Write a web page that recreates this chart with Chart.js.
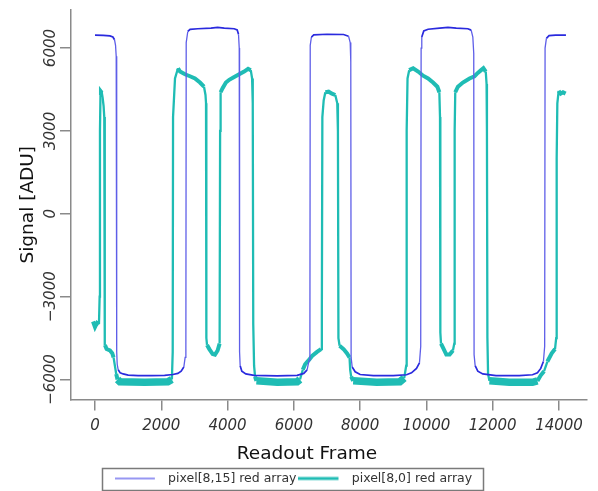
<!DOCTYPE html>
<html>
<head>
<meta charset="utf-8">
<script src="https://cdn.jsdelivr.net/npm/chart.js@4/dist/chart.umd.min.js"></script>
<style>
  html, body { margin: 0; padding: 0; background: #ffffff; }
  #wrap { position: relative; width: 598px; height: 491px; }
</style>
</head>
<body>
<div id="wrap"><canvas id="c" width="598" height="491"></canvas></div>
<script>
// ---- data ----
const seriesNames = ["pixel[8,15] red array", "pixel[8,0] red array"];

const blueFrames = [0, 250, 450, 540, 590, 620, 640, 655, 670, 700, 760, 850, 1000, 1300, 1700, 2100, 2350, 2500, 2600, 2680, 2720, 2742,
  2752, 2800, 2870, 3100, 3500, 3700, 3900, 4200, 4290, 4330, 4352, 4362, 4380, 4430, 4550, 4800, 5500, 6100, 6300, 6400, 6460, 6484,
  6494, 6530, 6600, 7000, 7500, 7650, 7700, 7718, 7728, 7760, 7850, 8000, 8400, 9000, 9400, 9550, 9700, 9790, 9828,
  9840, 9860, 9920, 10050, 10400, 10650, 10900, 11250, 11350, 11400, 11428, 11438, 11470, 11550, 11700, 12100, 12800, 13200, 13350, 13450, 13530, 13568,
  13580, 13620, 13700, 13900, 14210];
const blueValues = [6470, 6460, 6440, 6400, 6300, 6100, 5700, -5000, -5450, -5650, -5760, -5800, -5840, -5860, -5860, -5850, -5820, -5780, -5700, -5550, -5200, -4900,
  6200, 6600, 6680, 6700, 6720, 6750, 6720, 6700, 6660, 6500, 6000, -5000, -5500, -5700, -5800, -5850, -5870, -5850, -5780, -5650, -5300, -4800,
  6100, 6400, 6480, 6500, 6490, 6430, 6200, 5500, -5200, -5550, -5720, -5820, -5860, -5860, -5830, -5760, -5600, -5400, -4800,
  6000, 6400, 6620, 6680, 6720, 6750, 6720, 6700, 6650, 6400, 5800, -5100, -5500, -5700, -5800, -5860, -5860, -5830, -5760, -5600, -5350, -4800,
  6000, 6350, 6450, 6470, 6470];

const tealFrames = [-60, 0, 60, 120, 140, 150, 165, 180, 205, 230, 260, 280, 290, 300, 350, 450, 520, 560, 600, 640, 680, 750, 1500, 2200, 2320, 2345,
  2355, 2414, 2504, 2565, 2715, 2866, 3017, 3168, 3289, 3334, 3350, 3360, 3380, 3450, 3550, 3620, 3700, 3760,
  3775, 3790, 3850, 3950, 4050, 4200, 4350, 4500, 4620, 4700, 4740, 4760, 4775, 4800, 4830, 4870, 5500, 6100, 6185, 6270, 6340, 6450, 6550, 6700, 6820, 6845,
  6860, 6900, 6950, 7050, 7150, 7250, 7310, 7330, 7345, 7380, 7500, 7600, 7680, 7700, 7730, 7790, 8500, 9200, 9330, 9390,
  9404, 9430, 9480, 9600, 9750, 9900, 10050, 10200, 10330, 10390, 10410, 10420, 10440, 10500, 10600, 10700, 10800, 10840,
  10852, 10870, 10950, 11100, 11300, 11450, 11550, 11650, 11720, 11790, 11815, 11826, 11840, 11860, 11900, 12500, 13200, 13350, 13450, 13550, 13650, 13780, 13880, 13915,
  13930, 13950, 13990, 14050, 14120, 14200];
const tealValues = [-3900, -4100, -3950, -4000, -3000, 3000, 4300, 4420, 4380, 4200, 3900, 3500, -4200, -4750, -4900, -4950, -5050, -5200, -5500, -5800, -6000, -6080, -6100, -6080, -6000, -5000,
  3500, 4900, 5270, 5150, 5050, 4980, 4900, 4750, 4600, 4300, 4000, -4500, -4750, -4900, -5080, -5100, -4950, -4700,
  3000, 4400, 4550, 4750, 4850, 4950, 5050, 5150, 5250, 5200, 4900, 4000, -4000, -5500, -5900, -6050, -6100, -6080, -6000, -5650, -5450, -5300, -5150, -5000, -4900, -3500,
  3500, 4100, 4400, 4420, 4350, 4300, 4000, 3000, -4500, -4780, -4900, -5050, -5200, -5650, -5900, -6050, -6100, -6080, -5950, -5500,
  3000, 4900, 5200, 5270, 5150, 5000, 4900, 4750, 4600, 4400, 3500, -4300, -4700, -4850, -5100, -5100, -4950, -4700,
  3000, 4400, 4600, 4750, 4900, 4980, 5100, 5200, 5270, 5150, 4700, 3000, -4500, -5800, -6050, -6100, -6100, -6050, -5850, -5700, -5350, -5050, -4900, -4500,
  2000, 4000, 4450, 4350, 4400, 4350];

const xTickValues = [0, 2000, 4000, 6000, 8000, 10000, 12000, 14000];
const yTickValues = [-6000, -3000, 0, 3000, 6000];
const xAxisTitle = "Readout Frame";
const yAxisTitle = "Signal [ADU]";

// ---- styling ----
const blueColor = '#2a2ade';
const blueVertColor = '#5e5ee8';
const tealColor = '#1fbcb4';
const axisGray = '#8a8a8a';

function toPoints(xs, ys) { return xs.map((x, i) => ({ x: x, y: ys[i] })); }
function isVertical(ctx) {
  const dx = Math.abs(ctx.p1.x - ctx.p0.x), dy = Math.abs(ctx.p1.y - ctx.p0.y);
  return dy > 2 * dx + 3;
}

function legendLine(color, width) {
  const cv = document.createElement('canvas');
  cv.width = 47; cv.height = 6;
  const g = cv.getContext('2d');
  g.strokeStyle = color; g.lineWidth = width;
  g.beginPath(); g.moveTo(0, 3); g.lineTo(40, 3); g.stroke();
  return cv;
}
const legendMarks = [legendLine('#7474ee', 1.4), legendLine(tealColor, 3)];

const legendBorder = {
  id: 'legendBorder',
  afterDraw(chart) {
    const hb = chart.legend && chart.legend.legendHitBoxes;
    if (!hb || !hb.length) return;
    const last = hb[hb.length - 1];
    const left = hb[0].left - 13, right = last.left + last.width + 11;
    const top = hb[0].top - 4.5, bottom = hb[0].top + hb[0].height + 4.5;
    const ctx = chart.ctx;
    ctx.save();
    ctx.strokeStyle = '#7a7a7a'; ctx.lineWidth = 1.5;
    ctx.strokeRect(Math.round(left) + 0.5, Math.round(top) + 0.5, Math.round(right - left), Math.round(bottom - top));
    ctx.restore();
  }
};

const xTitlePlugin = {
  id: 'xTitle',
  afterDraw(chart) {
    const ctx = chart.ctx;
    const area = chart.chartArea;
    ctx.save();
    ctx.font = '18.5px "DejaVu Sans"';
    ctx.fillStyle = '#111';
    ctx.textAlign = 'center';
    ctx.textBaseline = 'alphabetic';
    ctx.fillText(xAxisTitle, area.left + 236, area.bottom + 59);
    ctx.restore();
  }
};

new Chart(document.getElementById('c'), {
  type: 'line',
  data: {
    datasets: [
      {
        label: seriesNames[0],
        data: toPoints(blueFrames, blueValues),
        borderColor: blueColor,
        borderWidth: 1.7,
        pointRadius: 0,
        tension: 0,
        segment: {
          borderColor: ctx => isVertical(ctx) ? blueVertColor : blueColor,
          borderWidth: ctx => isVertical(ctx) ? 1.3 : 1.7
        }
      },
      {
        label: seriesNames[1],
        data: toPoints(tealFrames, tealValues),
        borderColor: tealColor,
        borderWidth: 3,
        pointRadius: 0,
        tension: 0,
        segment: {
          borderWidth: ctx => {
            if (isVertical(ctx)) return 2.3;
            if (ctx.p0.parsed.y < -5900 && ctx.p1.parsed.y < -5900) return 7.5;
            return 4;
          }
        }
      }
    ]
  },
  options: {
    responsive: false,
    animation: false,
    parsing: true,
    layout: { padding: { left: 0, top: 10, right: 11, bottom: -3.75 } },
    plugins: {
      tooltip: { enabled: false },
      title: { display: false },
      legend: {
        display: true,
        position: 'bottom',
        labels: {
          font: { family: 'DejaVu Sans', size: 12.5 },
          color: '#333',
          usePointStyle: true,
          pointStyleWidth: 47,
          padding: 2,
          generateLabels(chart) {
            const items = Chart.defaults.plugins.legend.labels.generateLabels(chart);
            items.forEach((it, i) => { it.pointStyle = legendMarks[i]; });
            return items;
          }
        }
      }
    },
    scales: {
      x: {
        type: 'linear',
        min: -724,
        max: 14845,
        afterBuildTicks(scale) { scale.ticks = xTickValues.map(v => ({ value: v })); },
        afterFit(scale) { scale.height = 70.75; },
        border: { display: true, color: axisGray, width: 1.5 },
        grid: { display: true, drawOnChartArea: false, drawTicks: true, tickLength: 11, color: axisGray, lineWidth: 1.5 },
        ticks: {
          autoSkip: false,
          maxRotation: 0,
          padding: 7,
          color: '#333',
          font: { family: 'DejaVu Sans', size: 15, style: 'italic' },
          callback: v => String(v)
        },
        title: { display: false }
      },
      y: {
        type: 'linear',
        min: -6725,
        max: 7378,
        afterBuildTicks(scale) { scale.ticks = yTickValues.map(v => ({ value: v })); },
        afterFit(scale) { scale.width = 71; },
        border: { display: true, color: axisGray, width: 1.5 },
        grid: { display: true, drawOnChartArea: false, drawTicks: true, tickLength: 11, color: axisGray, lineWidth: 1.5 },
        ticks: {
          autoSkip: false,
          minRotation: 90,
          maxRotation: 90,
          crossAlign: 'center',
          padding: -16,
          color: '#333',
          font: { family: 'DejaVu Sans', size: 15, style: 'italic' },
          callback: v => String(v).replace('-', '\u2212')
        },
        title: {
          display: true,
          text: yAxisTitle,
          color: '#111',
          font: { family: 'DejaVu Sans', size: 18.5 },
          padding: { top: 17.5, bottom: 0 }
        }
      }
    }
  },
  plugins: [legendBorder, xTitlePlugin]
});
</script>
</body>
</html>
